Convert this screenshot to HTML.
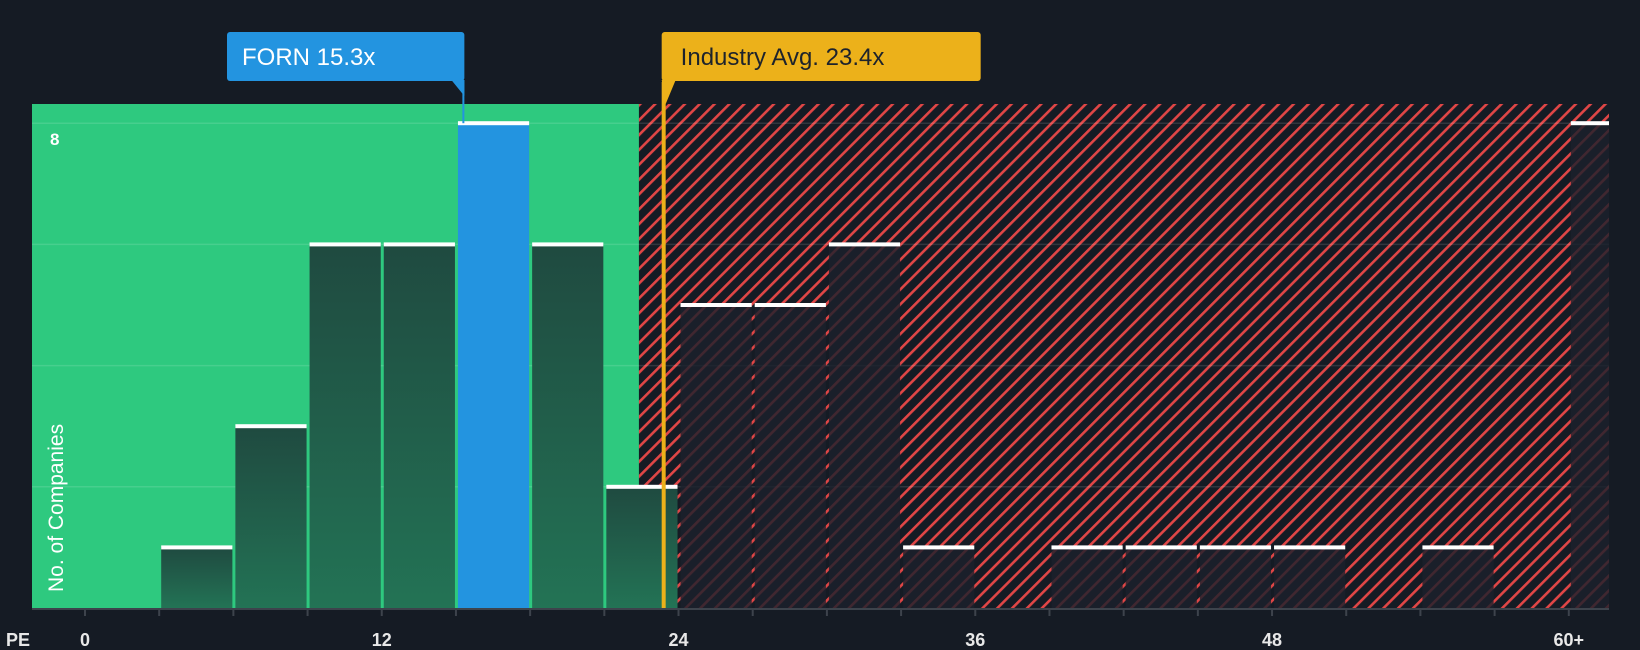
<!DOCTYPE html>
<html><head><meta charset="utf-8"><style>
html,body{margin:0;padding:0;background:#151b24;}
svg{display:block;font-family:"Liberation Sans",sans-serif;}
</style></head><body>
<svg id="chart" width="1640" height="650" viewBox="0 0 1640 650" xmlns="http://www.w3.org/2000/svg">
<defs>
<pattern id="hatch" patternUnits="userSpaceOnUse" width="10.5" height="10.5" patternTransform="rotate(45)">
<rect width="10.5" height="10.5" fill="#151b24"/>
<rect x="0" y="0" width="2.6" height="10.5" fill="#e04646"/>
</pattern>
<linearGradient id="barGrad" x1="0" y1="0" x2="0" y2="1">
<stop offset="0" stop-color="#1f4a40"/><stop offset="1" stop-color="#237355"/>
</linearGradient>
</defs>
<g id="layer"></g>
</svg>
<script>
const binStarts = [3,6,9,12,15,18,21,24,27,30,33,36,39,42,45,48,51,54,57,60];
const counts    = [1,3,6,6,8,6,2,5,5,6,1,0,1,1,1,1,0,1,0,8];
const xTicks = [0,12,24,36,48,60];
const xTickLabels = ["0","12","24","36","48","60+"];
const companyPE = 15.3;
const industryPE = 23.4;
const fairBoundary = 22.4;
const yMax = 8;

const X0=85, PX=24.73, BASE=608, PY=60.6, LEFT=32, RIGHT=1609, TOP=104;
const sx=v=>X0+v*PX, sy=v=>BASE-v*PY;
const NS="http://www.w3.org/2000/svg";
const g=document.getElementById('layer');
function mk(tag,attrs,parent){const e=document.createElementNS(NS,tag);for(const k in attrs)e.setAttribute(k,attrs[k]);(parent||g).appendChild(e);return e;}

let e=mk('rect',{x:LEFT,y:TOP,width:sx(fairBoundary)-LEFT,height:BASE-TOP,fill:'#2ec97f'});


e=mk('rect',{x:sx(fairBoundary),y:TOP,width:RIGHT-sx(fairBoundary),height:BASE-TOP,fill:'url(#hatch)'});


for(let v=2;v<=yMax;v+=2){
  e=mk('line',{x1:LEFT,x2:RIGHT,y1:sy(v),y2:sy(v),stroke:'rgba(255,255,255,0.12)','stroke-width':1.5});
  
  
}
binStarts.forEach((b,i)=>{
  const c=counts[i]; if(!c) return;
  const x1=sx(b)+2, x2=Math.min(sx(b+3)-1,RIGHT);
  const isCo = companyPE>=b && companyPE<b+3;
  const inRed = sx(b)>=sx(fairBoundary);
  let fill = isCo?'#2394e0':(inRed?'rgba(28,33,44,0.82)':'url(#barGrad)');
  const bar=mk('rect',{x:x1,y:sy(c),width:x2-x1,height:BASE-sy(c),fill:fill});
  
  
  const cap=mk('rect',{x:x1,y:sy(c)-2,width:x2-x1,height:4,fill:'#ffffff'});
  
  
});
e=mk('rect',{x:LEFT,y:BASE,width:RIGHT-LEFT,height:2,fill:'#3d434c'});


for(let v=0;v<=60;v+=3){
  e=mk('rect',{x:sx(v)-1,y:BASE,width:2,height:8,fill:'#3d434c'});
  
  
}
xTicks.forEach((v,i)=>{
  const t=mk('text',{x:sx(v),y:646,fill:'#e8e8e8','font-size':18,'font-weight':'bold','text-anchor':'middle'});
  t.textContent=xTickLabels[i];
  
  
});
e=mk('text',{x:6,y:646,fill:'#e8e8e8','font-size':18,'font-weight':'bold'});e.textContent='PE';


e=mk('text',{x:50,y:sy(yMax)+22,fill:'#ffffff','font-size':17,'font-weight':'bold'});e.textContent=String(yMax);


e=mk('text',{x:0,y:0,fill:'#ffffff','font-size':21,transform:'translate(63,592) rotate(-90)'});e.textContent='No. of Companies';


const ix=sx(industryPE);
e=mk('rect',{x:ix-2,y:82,width:4,height:BASE-82,fill:'#ecb11a'});


e=mk('path',{d:`M${ix-2} 80 L${ix+12} 80 L${ix+2} 104 Z`,fill:'#ecb11a'});


e=mk('rect',{x:ix-2,y:32,width:319,height:49,rx:3,fill:'#ecb11a'});


e=mk('text',{x:ix+17,y:65,fill:'#1d232c','font-size':24});e.textContent='Industry Avg. '+industryPE+'x';


const cx=sx(companyPE);
e=mk('rect',{x:cx-1,y:80,width:2,height:sy(yMax)-80,fill:'#2394e0'});


e=mk('path',{d:`M${cx+1} 80 L${cx-12} 80 L${cx+1} 96 Z`,fill:'#2394e0'});


e=mk('rect',{x:227,y:32,width:cx+1-227,height:49,rx:3,fill:'#2394e0'});


e=mk('text',{x:242,y:65,fill:'#ffffff','font-size':24});e.textContent='FORN '+companyPE+'x';


</script>
</body></html>
